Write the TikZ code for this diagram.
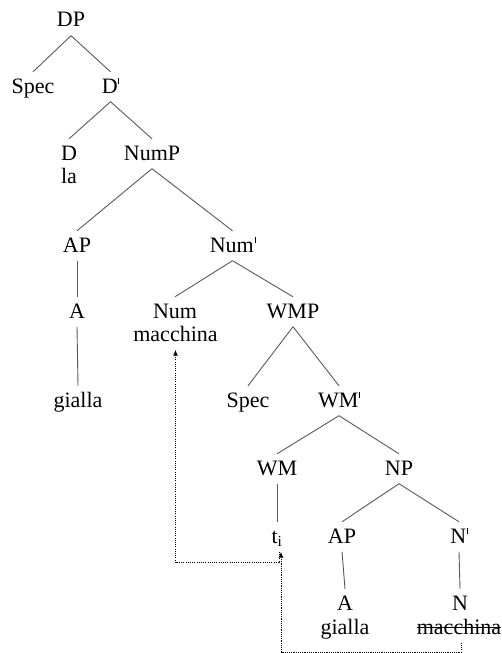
\documentclass[tikz,border=0pt]{standalone}
\usepackage{fontspec}
\setmainfont{Liberation Serif}
\usetikzlibrary{arrows.meta}
% small vertical tick used as the bar-level mark
\newcommand{\bartick}{\hspace{0.8pt}\rule[9pt]{0.7pt}{6pt}}

\begin{document}
\begin{tikzpicture}[x=1pt,y=-1pt,
  lbl/.style={anchor=base,inner sep=0pt,text height=21pt,text depth=8.5pt,
              font=\fontsize{22}{23}\selectfont},
  branch/.style={draw=black!65,line width=0.9pt},
  movement/.style={draw=black,line width=1pt,dash pattern=on 1.1pt off 1.1pt,
                   -{Latex[length=6pt,width=5pt]}}]
\useasboundingbox (0,0) rectangle (502,653);

% labels
\node[lbl] (dp)      at (71,27)    {DP};
\node[lbl] (spec1)   at (33,93)    {Spec};
\node[lbl] (dbar)    at (110.5,93) {D\bartick};
\node[lbl] (d)       at (69,160)   {D};
\node[lbl] (la)      at (69,183)   {la};
\node[lbl] (nump)    at (152,160)  {NumP};
\node[lbl] (ap1)     at (77,252)   {AP};
\node[lbl] (numbar)  at (232.5,252){Num\bartick};
\node[lbl] (a1)      at (77,318)   {A};
\node[lbl] (gialla1) at (78,407)   {gialla};
\node[lbl] (num)     at (175,318)  {Num};
\node[lbl] (mac1)    at (175.5,341){macchina};
\node[lbl] (wmp)     at (293,318)  {WMP};
\node[lbl] (spec2)   at (248,407)  {Spec};
\node[lbl] (wmbar)   at (339,407)  {WM\bartick};
\node[lbl] (wm)      at (277,475)  {WM};
\node[lbl] (np)      at (399,475)  {NP};
\node[lbl] (ti)      at (277,543)  {t\textsubscript{i}};
\node[lbl] (ap2)     at (342,543)  {AP};
\node[lbl] (nbar)    at (459,543)  {N\bartick};
\node[lbl] (a2)      at (345,610)  {A};
\node[lbl] (gialla2) at (345,634)  {gialla};
\node[lbl] (n)       at (460,610)  {N};
\node[lbl] (mac2)    at (459,634)  {macchina};

% struck-out copy of the noun
\draw[line width=0.8pt] ([yshift=6.8pt]mac2.base west) -- ([yshift=6.8pt]mac2.base east);

% branches
\draw[branch] (dp.south) -- (spec1.north);
\draw[branch] (dp.south) -- (dbar.north);
\draw[branch] (dbar.south) -- (d.north);
\draw[branch] (dbar.south) -- (nump.north);
\draw[branch] (nump.south) -- (ap1.north);
\draw[branch] (nump.south) -- (numbar.north);
\draw[branch] (ap1.south) -- (a1.north);
\draw[branch] (a1.south) -- (gialla1.north);
\draw[branch] (numbar.south) -- (num.north);
\draw[branch] (numbar.south) -- (wmp.north);
\draw[branch] (wmp.south) -- (spec2.north);
\draw[branch] (wmp.south) -- (wmbar.north);
\draw[branch] (wmbar.south) -- (wm.north);
\draw[branch] (wmbar.south) -- (np.north);
\draw[branch] (wm.south) -- (ti.north);
\draw[branch] (np.south) -- (ap2.north);
\draw[branch] (np.south) -- (nbar.north);
\draw[branch] (ap2.south) -- (a2.north);
\draw[branch] (nbar.south) -- (n.north);

% head movement
\draw[movement] ([xshift=2pt]ti.south) -- ++(0,11) -| (mac1.south);
\draw[movement] ([xshift=2pt]mac2.south) -- ++(0,9.5) -| ([xshift=4pt]ti.south);
\end{tikzpicture}
\end{document}
